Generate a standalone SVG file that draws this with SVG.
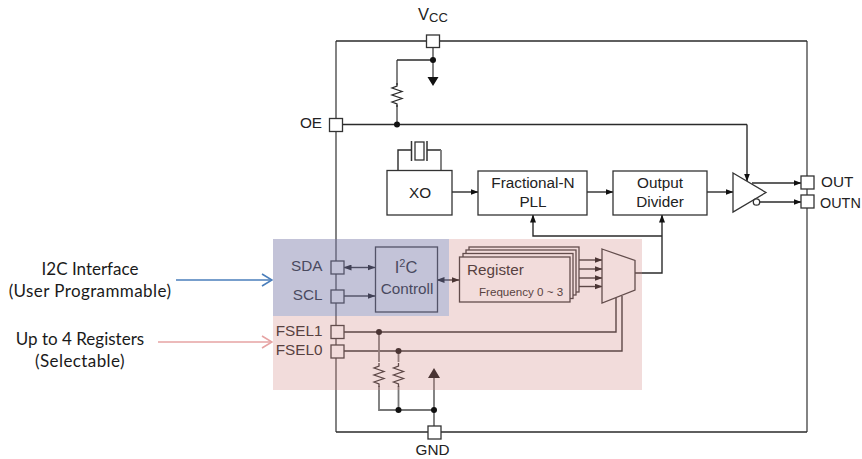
<svg xmlns="http://www.w3.org/2000/svg" width="862" height="459" viewBox="0 0 862 459">
<style>
.w{fill:none;stroke:#2b2b2b;stroke-width:1.4}
.g{fill:none;stroke:#777;stroke-width:1.8}
.b{fill:#fff;stroke:#333;stroke-width:1.3}
.d{fill:#111;stroke:none}
text{font-family:"Liberation Sans",Arial,sans-serif;font-size:15.300px;fill:#222}
.c{font-family:Lato,"Open Sans",sans-serif;font-size:17px;fill:#1a1a1a;text-anchor:middle}
.m{text-anchor:middle}
.e{text-anchor:end}
.f{font-size:11.600px}
.h{font-size:16.500px}
.s{font-size:11px}
.u{font-size:13px}
.n{font-size:14.400px}
.x{letter-spacing:.4px}
</style>
<defs>
<marker id="a" markerWidth="8" markerHeight="6" refX="7.5" refY="3" orient="auto-start-reverse" markerUnits="userSpaceOnUse"><path d="M0 0L8 3L0 6Z" fill="#111"/></marker>
<marker id="bl" markerWidth="12" markerHeight="14" refX="11" refY="7" orient="auto" markerUnits="userSpaceOnUse"><path d="M1 1L11 7L1 13" fill="none" stroke="#4a7ebb" stroke-width="1.6"/></marker>
<marker id="pk" markerWidth="12" markerHeight="14" refX="11" refY="7" orient="auto" markerUnits="userSpaceOnUse"><path d="M1 1L11 7L1 13" fill="none" stroke="#e6a3a3" stroke-width="1.6"/></marker>
<path id="r" d="M0 0V3L-5 5L5 8.500L-5 12L5 15.500L-5 19L0 21V24" fill="none" stroke="#2b2b2b" stroke-width="1.3"/>
</defs>
<g id="connectors">
<path class="g" d="M336 41V432M807 41V432"/>
<path class="w" d="M336 41H807M336 432H807"/>
<path class="g" d="M433 48V78M397 85V60"/>
<path class="w" d="M397 60H433M342 124.500H747"/>
<path class="g" d="M397 105V124"/>
<path class="w" d="M747 124.500V181" marker-end="url(#a)"/>
<path class="w" d="M398 170V150H411M427 150H441"/>
<path class="g" d="M441 150V170"/>
<path class="w" d="M452 192H478" marker-end="url(#a)"/>
<path class="w" d="M587 192H613" marker-end="url(#a)"/>
<path class="w" d="M707 192H733" marker-end="url(#a)"/>
<path class="w" d="M752 183H801" marker-end="url(#a)"/>
<path class="w" d="M760 202H801" marker-end="url(#a)"/>
<path class="w" d="M533 215V236H662" marker-start="url(#a)"/>
<path class="w" d="M635 273H662V215" marker-end="url(#a)"/>
<path class="w" d="M344 267.500H375" marker-start="url(#a)" marker-end="url(#a)"/>
<path class="w" d="M344 296H375" marker-end="url(#a)"/>
<path class="w" d="M437 280H459" marker-start="url(#a)" marker-end="url(#a)"/>
<path class="w" d="M579 260H602" marker-end="url(#a)"/>
<path class="w" d="M576 269H602" marker-end="url(#a)"/>
<path class="w" d="M573 278H602" marker-end="url(#a)"/>
<path class="w" d="M570 286.500H602" marker-end="url(#a)"/>
<path class="w" d="M344 332H616V298M344 351H622V296"/>
<path class="g" d="M379 332V362M398.500 351V362M379 386V410H434M398.500 386V410M434 378V426"/>
<use href="#r" x="397" y="83"/>
<use href="#r" x="379" y="363"/>
<use href="#r" x="398.500" y="363"/>
<circle class="d" cx="433" cy="60" r="3"/>
<circle class="d" cx="397" cy="124.500" r="3"/>
<circle class="d" cx="379" cy="332" r="3"/>
<circle class="d" cx="398.500" cy="351" r="3"/>
<circle class="d" cx="398.500" cy="410" r="3"/>
<circle class="d" cx="434" cy="410" r="3"/>
<path class="d" d="M427.500 77H438.500L433 86ZM428 378H440L434 368Z"/>
<path d="M176 280H272" fill="none" stroke="#4a7ebb" stroke-width="1.6" marker-end="url(#bl)"/>
<path d="M158 342H272" fill="none" stroke="#e6a3a3" stroke-width="1.6" marker-end="url(#pk)"/>
</g>
<g id="vcc"><rect class="b" x="426.500" y="35" width="13" height="12.500"/><text class="h" x="418" y="20">V<tspan class="u" dy="2">CC</tspan></text></g>
<g id="oe"><rect class="b" x="329.500" y="118.500" width="13" height="13"/><text class="e" x="322" y="128">OE</text></g>
<g id="crystal"><path d="M411.500 141V161M427 141V161" fill="none" stroke="#333" stroke-width="1.500"/><rect x="415" y="142" width="9" height="18" fill="#fff" stroke="#333" stroke-width="1.300"/></g>
<g id="xo"><rect class="b" x="387" y="170.500" width="65" height="44.500"/><text class="m" x="420" y="198">XO</text></g>
<g id="pll"><rect class="b" x="478" y="171" width="109" height="44"/><text class="m" x="533" y="188">Fractional-N</text><text class="m" x="533" y="207">PLL</text></g>
<g id="divider"><rect class="b" x="613" y="171" width="94" height="44"/><text class="m" x="660" y="188">Output</text><text class="m" x="660" y="207">Divider</text></g>
<g id="buffer"><path class="b" d="M733 173L766 192.500L733 212Z"/><circle class="b" cx="756.500" cy="202" r="3.200"/></g>
<g id="out"><rect class="b" x="801" y="176" width="13" height="13"/><text x="821" y="187">OUT</text></g>
<g id="outn"><rect class="b" x="801" y="195" width="13" height="13"/><text class="n" x="820" y="208">OUTN</text></g>
<g id="sda"><rect class="b" x="331" y="261" width="13" height="13"/><text class="e" x="322.500" y="270.500">SDA</text></g>
<g id="scl"><rect class="b" x="331" y="290" width="13" height="13"/><text class="e" x="322.500" y="300">SCL</text></g>
<g id="fsel1"><rect class="b" x="331" y="325.500" width="13" height="13"/><text class="e" x="322.500" y="336">FSEL1</text></g>
<g id="fsel0"><rect class="b" x="331" y="345" width="13" height="13"/><text class="e" x="322.500" y="355">FSEL0</text></g>
<g id="gnd"><rect class="b" x="428" y="426" width="13" height="13"/><text class="m" x="432.500" y="455">GND</text></g>
<g id="i2c"><rect class="b" x="375.500" y="247" width="62" height="65"/><text class="m h" x="406" y="273">I<tspan class="s" dy="-6">2</tspan><tspan class="h" dy="6">C</tspan></text><text class="m" x="407" y="294">Controll</text></g>
<g id="register">
<rect class="b" x="469" y="247" width="110" height="45"/>
<rect class="b" x="466" y="250" width="110" height="45"/>
<rect class="b" x="463" y="253.500" width="110" height="45"/>
<rect class="b" x="459.500" y="257" width="110.500" height="45"/>
<text x="467" y="275">Register</text><text class="f" x="479" y="296">Frequency 0 ~ 3</text></g>
<g id="mux"><path class="b" d="M602 249L635 260.500V290L602 303Z"/></g>
<rect id="blue-region" x="273" y="239" width="176" height="77" fill="#7a7aa8" fill-opacity=".45"/>
<path id="pink-region" d="M449 239H642V390H273V316H449Z" fill="#d48a87" fill-opacity=".3"/>
<g id="labels">
<text class="c" x="90" y="275">I2C Interface</text>
<text class="c x" x="90" y="297">(User Programmable)</text>
<text class="c" x="80" y="345">Up to 4 Registers</text>
<text class="c x" x="80" y="367">(Selectable)</text>
</g>
</svg>
